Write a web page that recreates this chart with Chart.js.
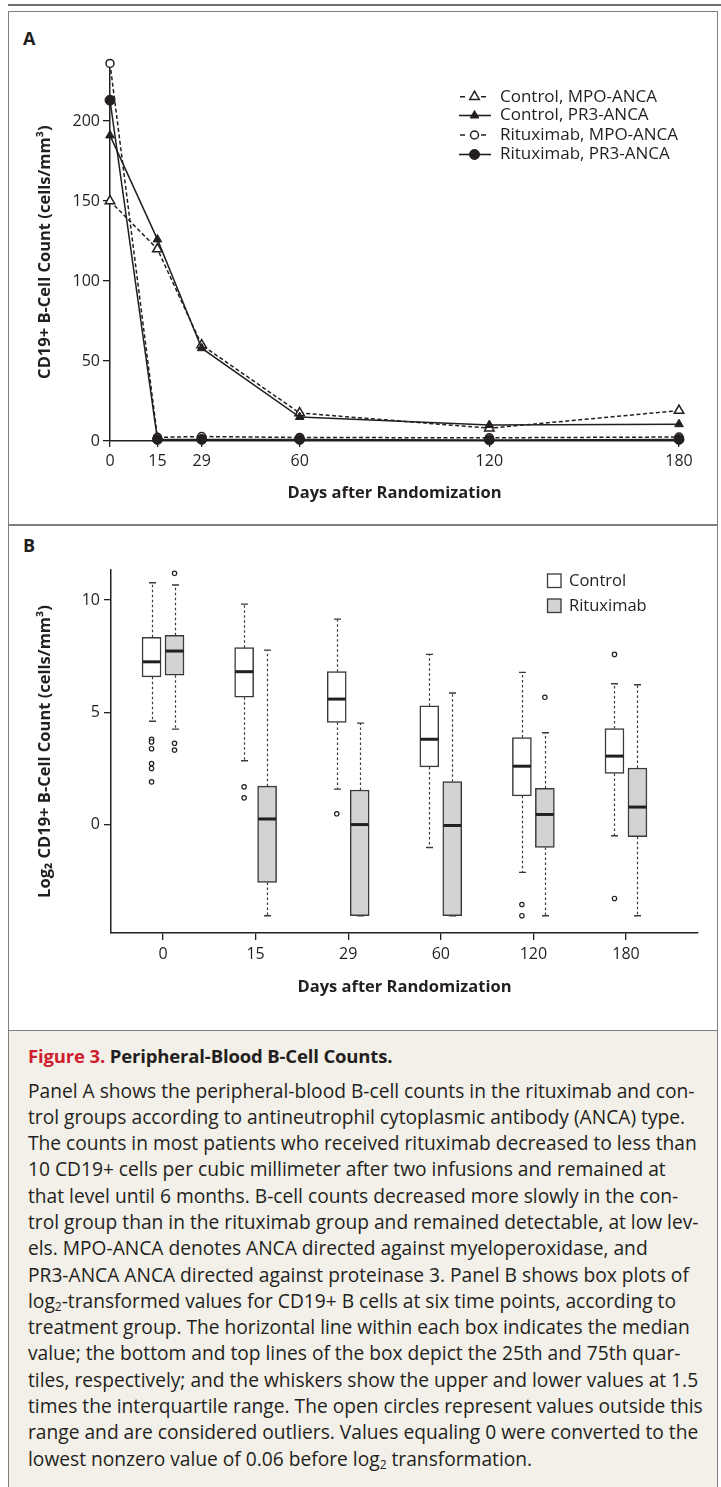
<!DOCTYPE html>
<html>
<head>
<meta charset="utf-8">
<script src="https://cdn.jsdelivr.net/npm/chart.js@4"></script>
<style>
  html, body { margin: 0; padding: 0; background: #fff; }
  body { position: relative; width: 721px; height: 1487px; overflow: hidden;
         font-family: 'Open Sans', sans-serif; color: #231f20; }
  #rule { position: absolute; left: 8px; top: 4px; width: 713px; height: 2px; background: #6d6e71; }
  #frame { position: absolute; left: 8px; top: 11px; width: 710px; height: 1020px;
           box-sizing: border-box; border: 1.5px solid #7f7f7f; }
  #divider { position: absolute; left: 8px; top: 524px; width: 710px; height: 1.5px; background: #7f7f7f; }
  .plabel { position: absolute; left: 23px; font-weight: bold; font-size: 18px; line-height: 20px; }
  canvas { position: absolute; left: 0; }
  #caption { position: absolute; left: 8px; top: 1029.5px; width: 710px; height: 470px;
             box-sizing: border-box; background: #f3f0e9; border: 1.5px solid #7f7f7f;
             padding: 12px 0 0 19px; }
  #caption .head { font-weight: bold; font-size: 18.5px; line-height: 26px; letter-spacing: -0.15px; margin-bottom: 9px; }
  #caption .head span { color: #cf2030; }
  #caption .body { font-size: 19.2px; line-height: 26.3px; white-space: nowrap; }
  #caption sub { font-size: 12px; line-height: 0; vertical-align: -3px; }
</style>
</head>
<body>
<div id="rule"></div>
<div id="frame"></div>
<div id="divider"></div>
<div class="plabel" style="top:28px">A</div>
<div class="plabel" style="top:535px">B</div>
<canvas id="chart-a" width="721" height="525" style="top:0"></canvas>
<canvas id="chart-b" width="721" height="505" style="top:525px"></canvas>
<div id="caption">
  <div class="head"><span>Figure 3.</span> Peripheral-Blood B-Cell Counts.</div>
  <div class="body">
    Panel A shows the peripheral-blood B-cell counts in the rituximab and con-<br>
    trol groups according to antineutrophil cytoplasmic antibody (ANCA) type.<br>
    The counts in most patients who received rituximab decreased to less than<br>
    10 CD19+ cells per cubic millimeter after two infusions and remained at<br>
    that level until 6 months. B-cell counts decreased more slowly in the con-<br>
    trol group than in the rituximab group and remained detectable, at low lev-<br>
    els. MPO-ANCA denotes ANCA directed against myeloperoxidase, and<br>
    PR3-ANCA ANCA directed against proteinase 3. Panel B shows box plots of<br>
    log<sub>2</sub>-transformed values for CD19+ B cells at six time points, according to<br>
    treatment group. The horizontal line within each box indicates the median<br>
    value; the bottom and top lines of the box depict the 25th and 75th quar-<br>
    tiles, respectively; and the whiskers show the upper and lower values at 1.5<br>
    times the interquartile range. The open circles represent values outside this<br>
    range and are considered outliers. Values equaling 0 were converted to the<br>
    lowest nonzero value of 0.06 before log<sub>2</sub> transformation.
  </div>
</div>
<script>
// パネル A: 折れ線、パネル B: 箱ひげ図

const DAYS = [0, 15, 29, 60, 120, 180];

// panel A (cells/mm3)
const Y_TICKS_A = [0, 50, 100, 150, 200];
const Y_MAX_A = 236;
const CONTROL_MPO = [150, 120, 60, 17.5, 8, 19];
const CONTROL_PR3 = [191, 126, 58, 15, 10, 10.5];
const RITUX_MPO = [236, 2.3, 2.8, 2.2, 2, 2.5];
const RITUX_PR3 = [213, 1, 1, 1, 0.7, 1];
const SERIES_A_LABELS = ["Control, MPO-ANCA", "Control, PR3-ANCA", "Rituximab, MPO-ANCA", "Rituximab, PR3-ANCA"];

// panel B (log2 cells/mm3)
const GROUP_LABELS_B = ["Control", "Rituximab"];
const Y_TICKS_B = [0, 5, 10];
const Y_MIN_B = -4.83;
const Y_MAX_B = 11.34;

const CTRL_LO  = [4.6, 2.84, 1.58, -1.02, -2.13, -0.5];
const CTRL_Q1  = [6.58, 5.67, 4.55, 2.57, 1.28, 2.28];
const CTRL_MED = [7.25, 6.81, 5.59, 3.8, 2.6, 3.05];
const CTRL_Q3  = [8.34, 7.88, 6.81, 5.29, 3.88, 4.28];
const CTRL_HI  = [10.77, 9.82, 9.15, 7.58, 6.78, 6.27];
const CTRL_OUT = [[3.8, 3.68, 3.38, 2.72, 2.5, 1.9], [1.68, 1.19], [0.48], [], [-3.56, -4.06], [7.58, -3.29]];

const RITUX_LO  = [4.25, -4.06, -4.06, -4.06, -4.06, -4.06];
const RITUX_Q1  = [6.65, -2.58, -4.06, -4.06, -1.02, -0.54];
const RITUX_MED = [7.73, 0.25, 0.0, -0.04, 0.45, 0.78];
const RITUX_Q3  = [8.43, 1.71, 1.54, 1.91, 1.61, 2.52];
const RITUX_HI  = [10.67, 7.77, 4.52, 5.86, 4.09, 6.23];
const RITUX_OUT = [[11.19, 3.62, 3.32], [], [], [], [5.67], []];

const INK = "#231f20";
const BOX_EDGE = "#3a3a3a";
const RITUX_FILL = "#d1d3d4";
const BOX_SHIFT = 0.124;   // 箱の左右ずれ (x 単位)
const BOX_W = 19;

Chart.defaults.font.family = "'Open Sans', sans-serif";
Chart.defaults.color = INK;

function pts(xs, ys) {
  return xs.map((x, i) => ({ x, y: ys[i] }));
}

function markerFor(ds, ctx, x, y) {
  ctx.save();
  ctx.fillStyle = ds.pointBackgroundColor;
  ctx.strokeStyle = ds.pointBorderColor;
  ctx.lineWidth = ds.pointBorderWidth;
  ctx.setLineDash([]);
  Chart.helpers.drawPoint(ctx, {
    pointStyle: ds.pointStyle, radius: ds.pointRadius, rotation: 0, borderWidth: ds.pointBorderWidth,
  }, x, y);
  ctx.restore();
}

// 凡例 A
const legendA = {
  id: "legendA",
  afterDraw(chart) {
    const ctx = chart.ctx;
    const rows = [96.7, 115.5, 135, 154.5];
    chart.data.datasets.forEach((ds, i) => {
      const y = rows[i];
      ctx.save();
      ctx.strokeStyle = INK;
      ctx.lineWidth = 1.6;
      ctx.beginPath();
      if (ds.borderDash && ds.borderDash.length) {
        ctx.moveTo(460, y); ctx.lineTo(465, y);
        ctx.moveTo(481, y); ctx.lineTo(486, y);
      } else {
        ctx.moveTo(459, y); ctx.lineTo(491, y);
      }
      ctx.stroke();
      ctx.restore();
      markerFor(ds, ctx, 474.5, y);
      ctx.save();
      ctx.fillStyle = INK;
      ctx.font = "17px 'Open Sans'";
      ctx.textBaseline = "middle";
      ctx.fillText(ds.label, 500, y);
      ctx.restore();
    });
  },
};

function buildChartA() {
  const ctx = document.getElementById("chart-a").getContext("2d");
  const common = { borderColor: INK, borderWidth: 1.5, pointBorderColor: INK, clip: false, tension: 0 };
  return new Chart(ctx, {
    type: "line",
    data: {
      datasets: [
        { ...common, label: SERIES_A_LABELS[0], data: pts(DAYS, CONTROL_MPO), borderDash: [4, 2.5],
          pointStyle: "triangle", pointRadius: 5.5, pointBackgroundColor: "#fff", pointBorderWidth: 1.5, order: 2 },
        { ...common, label: SERIES_A_LABELS[1], data: pts(DAYS, CONTROL_PR3),
          pointStyle: "triangle", pointRadius: 5, pointBackgroundColor: INK, pointBorderWidth: 1, order: 1 },
        { ...common, label: SERIES_A_LABELS[2], data: pts(DAYS, RITUX_MPO), borderDash: [4, 2.5],
          pointStyle: "circle", pointRadius: 4, pointBackgroundColor: "#fff", pointBorderWidth: 1.5, order: 3 },
        { ...common, label: SERIES_A_LABELS[3], data: pts(DAYS, RITUX_PR3),
          pointStyle: "circle", pointRadius: 5, pointBackgroundColor: INK, pointBorderWidth: 1, order: 0 },
      ],
    },
    options: {
      responsive: false,
      animation: false,
      events: [],
      layout: { padding: { top: 63.4, right: 42, left: 0, bottom: 0 } },
      plugins: { legend: { display: false }, tooltip: { enabled: false } },
      scales: {
        x: {
          type: "linear", min: 0, max: 180,
          afterBuildTicks: s => { s.ticks = DAYS.map(v => ({ value: v })); },
          afterFit: s => { s.height = 84; },
          grid: { drawOnChartArea: false, tickLength: 6, color: INK, lineWidth: 1.3 },
          border: { color: INK, width: 1.5 },
          ticks: { font: { size: 16 }, padding: 5, color: INK, autoSkip: false, maxRotation: 0 },
          title: { display: true, text: "Days after Randomization", color: INK,
                   font: { size: 16.5, weight: "bold" }, padding: { top: 0, bottom: 22 } },
        },
        y: {
          min: 0, max: Y_MAX_A,
          afterBuildTicks: s => { s.ticks = Y_TICKS_A.map(v => ({ value: v })); },
          afterFit: s => { s.width = 110; },
          grid: { drawOnChartArea: false, tickLength: 7, color: INK, lineWidth: 1.3 },
          border: { color: INK, width: 1.5 },
          ticks: { font: { size: 16 }, padding: 3, color: INK },
          title: { display: true, text: "CD19+ B-Cell Count (cells/mm³)", color: INK,
                   font: { size: 16.5, weight: "bold" }, padding: { top: 35, bottom: 0 } },
        },
      },
    },
    plugins: [legendA],
  });
}

// ひげ・中央値・凡例 B
const boxParts = {
  id: "boxParts",
  beforeDatasetsDraw(chart) {
    const { ctx, scales: { x, y } } = chart;
    const groups = [
      [-BOX_SHIFT, CTRL_LO, CTRL_Q1, CTRL_Q3, CTRL_HI],
      [BOX_SHIFT, RITUX_LO, RITUX_Q1, RITUX_Q3, RITUX_HI],
    ];
    ctx.save();
    ctx.strokeStyle = BOX_EDGE;
    groups.forEach(([shift, lo, q1, q3, hi]) => {
      DAYS.forEach((d, i) => {
        const cx = Math.round(x.getPixelForValue(i + shift)) + 0.5;
        ctx.lineWidth = 1.2;
        ctx.setLineDash([2.5, 2.5]);
        ctx.beginPath();
        ctx.moveTo(cx, y.getPixelForValue(q3[i])); ctx.lineTo(cx, y.getPixelForValue(hi[i]));
        ctx.moveTo(cx, y.getPixelForValue(q1[i])); ctx.lineTo(cx, y.getPixelForValue(lo[i]));
        ctx.stroke();
        ctx.setLineDash([]);
        ctx.lineWidth = 1.4;
        ctx.beginPath();
        [hi[i], lo[i]].forEach(v => {
          const py = y.getPixelForValue(v);
          ctx.moveTo(cx - 3.5, py); ctx.lineTo(cx + 3.5, py);
        });
        ctx.stroke();
      });
    });
    ctx.restore();
  },
  afterDatasetsDraw(chart) {
    const { ctx, scales: { x, y } } = chart;
    ctx.save();
    ctx.strokeStyle = INK;
    ctx.lineWidth = 3;
    [[-BOX_SHIFT, CTRL_MED], [BOX_SHIFT, RITUX_MED]].forEach(([shift, med]) => {
      DAYS.forEach((d, i) => {
        const cx = x.getPixelForValue(i + shift);
        const py = y.getPixelForValue(med[i]);
        ctx.beginPath();
        ctx.moveTo(cx - BOX_W / 2 + 0.5, py); ctx.lineTo(cx + BOX_W / 2 - 0.5, py);
        ctx.stroke();
      });
    });
    ctx.restore();

    // 凡例
    const rows = [56, 81];
    ctx.save();
    GROUP_LABELS_B.forEach((label, i) => {
      const ds = chart.data.datasets[i];
      ctx.fillStyle = ds.backgroundColor;
      ctx.strokeStyle = BOX_EDGE;
      ctx.lineWidth = 1.3;
      ctx.fillRect(547.5, rows[i] - 7, 13.5, 13.5);
      ctx.strokeRect(547.5, rows[i] - 7, 13.5, 13.5);
      ctx.fillStyle = INK;
      ctx.font = "16.5px 'Open Sans'";
      ctx.textBaseline = "middle";
      ctx.fillText(label, 569, rows[i]);
    });
    ctx.restore();
  },
};

function outlierPoints(outs, shift) {
  const list = [];
  outs.forEach((vals, i) => vals.forEach(v => list.push({ x: i + shift, y: v })));
  return list;
}

function buildChartB() {
  const ctx = document.getElementById("chart-b").getContext("2d");
  const barCommon = { borderColor: BOX_EDGE, borderWidth: 1.5, borderSkipped: false,
                      barThickness: BOX_W, grouped: false };
  const outCommon = { type: "scatter", pointStyle: "circle", pointRadius: 2.2, pointBackgroundColor: "#fff",
                      pointBorderColor: INK, pointBorderWidth: 1.2, showLine: false, clip: false };
  return new Chart(ctx, {
    type: "bar",
    data: {
      datasets: [
        { ...barCommon, label: GROUP_LABELS_B[0], backgroundColor: "#fff",
          data: DAYS.map((d, i) => ({ x: i - BOX_SHIFT, y: [CTRL_Q1[i], CTRL_Q3[i]] })) },
        { ...barCommon, label: GROUP_LABELS_B[1], backgroundColor: RITUX_FILL,
          data: DAYS.map((d, i) => ({ x: i + BOX_SHIFT, y: [RITUX_Q1[i], RITUX_Q3[i]] })) },
        { ...outCommon, label: "Control outliers", data: outlierPoints(CTRL_OUT, -BOX_SHIFT) },
        { ...outCommon, label: "Rituximab outliers", data: outlierPoints(RITUX_OUT, BOX_SHIFT) },
      ],
    },
    options: {
      responsive: false,
      animation: false,
      events: [],
      layout: { padding: { top: 45, right: 23, left: 0, bottom: 0 } },
      plugins: { legend: { display: false }, tooltip: { enabled: false } },
      scales: {
        x: {
          type: "linear", min: -0.562, max: 5.778, offset: false,
          afterBuildTicks: s => { s.ticks = DAYS.map((d, i) => ({ value: i })); },
          afterFit: s => { s.height = 97; },
          grid: { drawOnChartArea: false, offset: false, tickLength: 7, color: INK, lineWidth: 1.3 },
          border: { color: INK, width: 1.5 },
          ticks: { font: { size: 16 }, padding: 4.4, color: INK, autoSkip: false, maxRotation: 0,
                   callback: v => DAYS[v] },
          title: { display: true, text: "Days after Randomization", color: INK,
                   font: { size: 16.5, weight: "bold" }, padding: { top: 0, bottom: 33 } },
        },
        y: {
          min: Y_MIN_B, max: Y_MAX_B,
          afterBuildTicks: s => { s.ticks = Y_TICKS_B.map(v => ({ value: v })); },
          afterFit: s => { s.width = 111; },
          grid: { drawOnChartArea: false, tickLength: 7, color: INK, lineWidth: 1.3 },
          border: { color: INK, width: 1.5 },
          ticks: { font: { size: 16 }, padding: 4, color: INK },
          title: { display: true, text: "Log₂ CD19+ B-Cell Count (cells/mm³)", color: INK,
                   font: { size: 16.5, weight: "bold" }, padding: { top: 35, bottom: 0 } },
        },
      },
    },
    plugins: [boxParts],
  });
}

buildChartA();
buildChartB();
</script>
</body>
</html>
